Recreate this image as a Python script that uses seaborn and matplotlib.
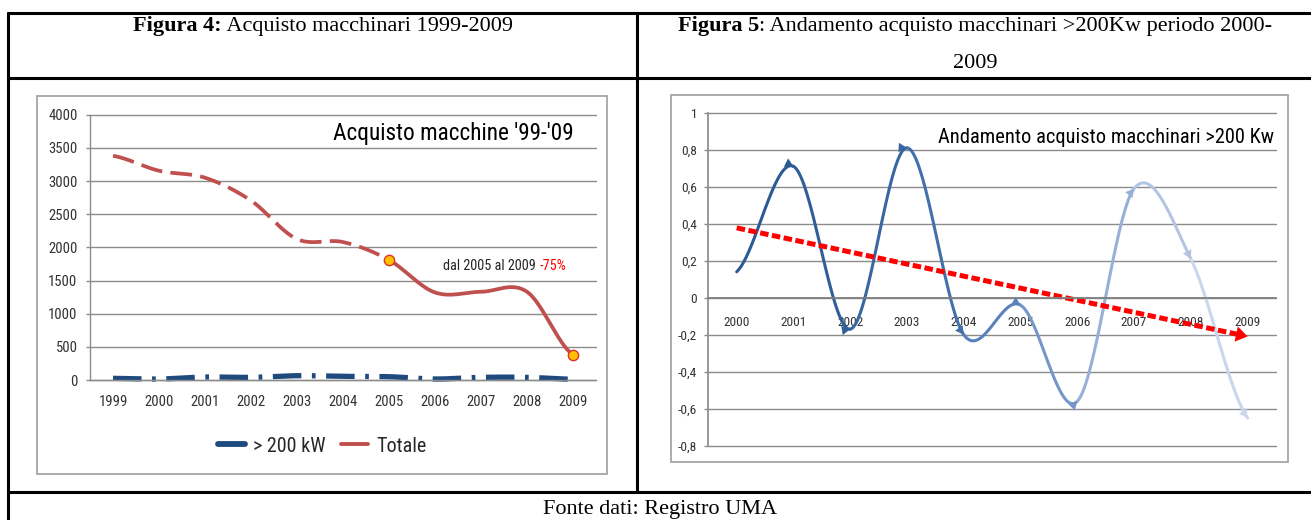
import numpy as np
import pandas as pd
import matplotlib
matplotlib.use("Agg")
import matplotlib.pyplot as plt
import seaborn as sns
from matplotlib import font_manager as fm
from matplotlib.lines import Line2D
from matplotlib.patches import Rectangle

# --- dati -------------------------------------------------------------
anni_fig4 = ['1999', '2000', '2001', '2002', '2003', '2004',
             '2005', '2006', '2007', '2008', '2009']
totale = [3380, 3155, 3050, 2705, 2125, 2080, 1810, 1320, 1330, 1330, 380]
oltre_200kw = [25, 15, 45, 40, 65, 55, 50, 15, 40, 40, 10]

anni_fig5 = ['2000', '2001', '2002', '2003', '2004',
             '2005', '2006', '2007', '2008', '2009']
andamento = [0.14, 0.71, -0.17, 0.81, -0.20, -0.04, -0.56, 0.59, 0.21, -0.65]

yticks_fig4 = [0, 500, 1000, 1500, 2000, 2500, 3000, 3500, 4000]
yticks_fig5 = [-0.8, -0.6, -0.4, -0.2, 0, 0.2, 0.4, 0.6, 0.8, 1]
ylabels_fig5 = ['-0,8', '-0,6', '-0,4', '-0,2', '0', '0,2', '0,4', '0,6', '0,8', '1']

W, H = 1311, 520

sns.set_theme(style='white')

# font stretto se disponibile, altrimenti Liberation Sans
names = {f.name for f in fm.fontManager.ttflist}
stretti = ['Liberation Sans Narrow', 'Roboto Condensed', 'Open Sans Condensed',
           'Noto Sans Condensed', 'Arial Narrow', 'DejaVu Sans Condensed']
scelto = next((c for c in stretti if c in names), None)
stretch = 'normal'
if scelto is None:
    cond = [f for f in fm.fontManager.ttflist
            if str(f.stretch) in ('condensed', 'semi-condensed', 'extra-condensed')
            and f.style == 'normal' and f.name in ('Noto Sans', 'Roboto', 'Open Sans', 'Lato', 'DejaVu Sans')]
    if cond:
        scelto, stretch = cond[0].name, str(cond[0].stretch)
    else:
        scelto = 'Liberation Sans'
plt.rcParams['font.family'] = [scelto, 'DejaVu Sans']
plt.rcParams['font.stretch'] = stretch
SERIF = dict(family=['Liberation Serif', 'DejaVu Serif'], stretch='normal')


def smooth(y, n=40):
    """curve lisciate stile Excel (Catmull-Rom), un pezzo per intervallo"""
    y = np.asarray(y, float)
    m = np.empty_like(y)
    m[1:-1] = (y[2:] - y[:-2]) / 2
    m[0] = (y[1] - y[0]) / 2
    m[-1] = (y[-1] - y[-2]) / 2
    pieces = []
    for i in range(len(y) - 1):
        t = np.linspace(0, 1, n)
        h00 = 2 * t**3 - 3 * t**2 + 1
        h10 = t**3 - 2 * t**2 + t
        h01 = -2 * t**3 + 3 * t**2
        h11 = t**3 - t**2
        pieces.append((i + t, h00 * y[i] + h10 * m[i] + h01 * y[i + 1] + h11 * m[i + 1]))
    return pieces, m


def rect(x0, y0, x1, y1):
    return [x0 / W, 1 - y1 / H, (x1 - x0) / W, (y1 - y0) / H]


fig = plt.figure(figsize=(W / 100, H / 100), dpi=100)
R = fig.canvas.get_renderer()

bg = fig.add_axes([0, 0, 1, 1])
bg.set_xlim(0, W)
bg.set_ylim(H, 0)
bg.axis('off')


def text_width(s, size, **kw):
    t = bg.text(0, 0, s, fontsize=size, **kw)
    w = t.get_window_extent(R).width
    t.remove()
    return w


def size_for(s, target, base=10, **kw):
    return base * target / text_width(s, base, **kw)


def rich_text(ax, x, y, parts, ha='center', va='center', **kw):
    texts = [ax.text(0, y, s, ha='left', va=va, **kw, **p) for s, p in parts]
    widths = [t.get_window_extent(R).width for t in texts]
    start = x - sum(widths) / 2 if ha == 'center' else (x - sum(widths) if ha == 'right' else x)
    for t, w in zip(texts, widths):
        t.set_x(start)
        start += w


# dimensioni dei testi adattate alla larghezza del riferimento
fs_tick4 = size_for('1999', 29)
fs_tick5 = size_for('2000', 26)
fs_tit4 = size_for("Acquisto macchine '99-'09", 240)
fs_tit5 = size_for('Andamento acquisto macchinari >200 Kw', 334)
fs_note = size_for('dal 2005 al 2009 -75%', 122)
fs_leg = size_for('Totale', 50)

# --- tabella del documento ---------------------------------------------
lw_tab = 2.2
for yy in (13, 78, 492):
    bg.plot([7, W], [yy, yy], color='black', lw=lw_tab, solid_capstyle='butt')
bg.plot([7.5, 7.5], [12, H], color='black', lw=lw_tab, solid_capstyle='butt')
bg.plot([637, 637], [13, 492], color='black', lw=lw_tab, solid_capstyle='butt')
bg.add_patch(Rectangle((37, 96), 607 - 37, 473.5 - 96, fill=False, ec='#a6a6a6', lw=1.3))
bg.add_patch(Rectangle((670.5, 95), 1288 - 670.5, 462 - 95, fill=False, ec='#a6a6a6', lw=1.3))

rich_text(bg, 323, 30.5, [('Figura 4:', dict(weight='bold')),
                          (' Acquisto macchinari 1999-2009', {})],
          va='baseline', fontsize=16, color='black', **SERIF)
rich_text(bg, 975, 30.5, [('Figura 5', dict(weight='bold')),
                          (': Andamento acquisto macchinari >200Kw periodo 2000-', {})],
          va='baseline', fontsize=16, color='black', **SERIF)
bg.text(975, 68.5, '2009', ha='center', va='baseline', fontsize=16, color='black', **SERIF)
bg.text(660, 514, 'Fonte dati: Registro UMA', ha='center', va='baseline',
        fontsize=16, color='black', **SERIF)

# --- Figura 4 ----------------------------------------------------------
ax1 = fig.add_axes(rect(90, 114.7, 596, 380))
ax1.set_facecolor('none')
x4 = np.arange(len(anni_fig4))

pieces_blu, _ = smooth(oltre_200kw)
xb = np.concatenate([p[0] for p in pieces_blu])
yb = np.concatenate([p[1] for p in pieces_blu])
sns.lineplot(x=xb, y=yb, ax=ax1, color='#1f4a7e', lw=3.8, sort=False, estimator=None,
             linestyle=(0, (5.4, 2.0, 0.7, 2.0)), clip_on=False)

pieces_tot, _ = smooth(totale)
split = anni_fig4.index('2005')
xd = np.concatenate([p[0] for p in pieces_tot[:split]])
yd = np.concatenate([p[1] for p in pieces_tot[:split]])
xs = np.concatenate([p[0] for p in pieces_tot[split:]])
ys = np.concatenate([p[1] for p in pieces_tot[split:]])
sns.lineplot(x=xd, y=yd, ax=ax1, color='#c0504d', lw=2.7, sort=False, estimator=None,
             linestyle=(0, (5.8, 2.2)))
sns.lineplot(x=xs, y=ys, ax=ax1, color='#c0504d', lw=2.7, sort=False, estimator=None)
idx = [split, len(totale) - 1]
sns.scatterplot(x=x4[idx], y=np.array(totale)[idx], ax=ax1, s=55, color='#ffc000',
                edgecolor='#e0302a', linewidth=1.0, zorder=5, clip_on=False)

ax1.set_xlim(-0.5, len(anni_fig4) - 0.5)
ax1.set_ylim(0, 4000)
ax1.set_yticks(yticks_fig4)
ax1.set_xticks(x4)
ax1.set_xticklabels(anni_fig4)
ax1.set_xticks(np.arange(-0.5, len(anni_fig4)), minor=True)
ax1.yaxis.grid(True, color='#8c8c8c', lw=1.0)
ax1.xaxis.grid(False)
ax1.set_axisbelow(True)
for s in ('top', 'right'):
    ax1.spines[s].set_visible(False)
for s in ('left', 'bottom'):
    ax1.spines[s].set_color('#8c8c8c')
    ax1.spines[s].set_linewidth(1.0)
ax1.tick_params(axis='x', which='major', length=0, pad=11, labelsize=fs_tick4, labelcolor='#333333')
ax1.tick_params(axis='x', which='minor', length=3.4, width=1, color='#8c8c8c', direction='out')
ax1.tick_params(axis='y', length=3, width=1, color='#8c8c8c', pad=6, labelsize=fs_tick4,
                labelcolor='#333333', left=True)
ax1.set_xlabel('')
ax1.set_ylabel('')
for gl in ax1.get_ygridlines():
    gl.set_clip_on(False)

bg.text(574, 140, "Acquisto macchine '99-'09", ha='right', va='baseline',
        fontsize=fs_tit4, color='black')
rich_text(bg, 566, 270, [('dal 2005 al 2009 ', dict(color='#262626')),
                         ('-75%', dict(color='#ff0000'))], ha='right', va='baseline',
          fontsize=fs_note)

handles = [Line2D([], [], color='#1f4a7e', lw=4.2),
           Line2D([], [], color='#c0504d', lw=2.8)]
em = fs_leg * 100 / 72
fig.legend(handles, ['> 200 kW', 'Totale'], loc='center', bbox_to_anchor=(322 / W, 1 - 446 / H),
           ncol=2, frameon=False, fontsize=fs_leg, handlelength=27 / em, handletextpad=8 / em,
           columnspacing=16 / em)

# --- Figura 5 ----------------------------------------------------------
ax2 = fig.add_axes(rect(708.3, 112.7, 1276, 445.7))
ax2.set_facecolor('none')
x5 = np.arange(len(anni_fig5))
seg_colors = ['#2c5a93', '#2f5e98', '#3866a1', '#4270ab', '#5a81bb',
              '#7796c8', '#98b0d8', '#b3c5e3', '#c9d6eb']
pieces5, m5 = smooth(andamento)
for i, (px, py) in enumerate(pieces5):
    c = seg_colors[i]
    sns.lineplot(x=px, y=py, ax=ax2, color=c, lw=2.2, sort=False, estimator=None)
    xe, ye = x5[i + 1], andamento[i + 1]
    d = 0.22
    ax2.annotate('', xy=(xe, ye), xytext=(xe - d, ye - d * m5[i + 1]),
                 arrowprops=dict(arrowstyle='-|>,head_length=0.5,head_width=0.28',
                                 color=c, lw=0, shrinkA=0, shrinkB=0, mutation_scale=12))

coef = np.polyfit(x5, andamento, 1)
xt = np.linspace(x5[0], x5[-1] - 0.15, 50)
sns.lineplot(x=xt, y=np.polyval(coef, xt), ax=ax2, color='#ff0000', lw=3.6, sort=False,
             estimator=None, linestyle=(0, (1.7, 0.7)))
ax2.annotate('', xy=(x5[-1], np.polyval(coef, x5[-1])),
             xytext=(x5[-1] - 0.3, np.polyval(coef, x5[-1] - 0.3)),
             arrowprops=dict(arrowstyle='-|>,head_length=0.6,head_width=0.4',
                             color='#ff0000', lw=0, shrinkA=0, shrinkB=0, mutation_scale=14))

ax2.set_xlim(-0.5, len(anni_fig5) - 0.5)
ax2.set_ylim(-0.8, 1)
ax2.set_yticks(yticks_fig5)
ax2.set_yticklabels(ylabels_fig5)
ax2.set_xticks(x5)
ax2.set_xticklabels(anni_fig5)
ax2.set_xticks(np.arange(0.5, len(anni_fig5)), minor=True)
ax2.yaxis.grid(True, color='#8c8c8c', lw=1.0)
ax2.xaxis.grid(False)
ax2.set_axisbelow(True)
for s in ('top', 'right'):
    ax2.spines[s].set_visible(False)
ax2.spines['left'].set_color('#8c8c8c')
ax2.spines['bottom'].set_color('#7f7f7f')
ax2.spines['bottom'].set_linewidth(1.3)
ax2.spines['bottom'].set_position(('data', 0))
ax2.tick_params(axis='x', which='major', length=0, pad=13.5, labelsize=fs_tick5, labelcolor='#333333')
ax2.tick_params(axis='x', which='minor', length=3.4, width=1, color='#7f7f7f', direction='out')
ax2.tick_params(axis='y', length=3, width=1, color='#8c8c8c', pad=5, labelsize=fs_tick5,
                labelcolor='#333333', left=True)
ax2.set_xlabel('')
ax2.set_ylabel('')
for gl in ax2.get_ygridlines():
    gl.set_clip_on(False)

bg.text(1274, 143, 'Andamento acquisto macchinari >200 Kw', ha='right', va='baseline',
        fontsize=fs_tit5, color='black')

fig.savefig('out.png', dpi=100)
